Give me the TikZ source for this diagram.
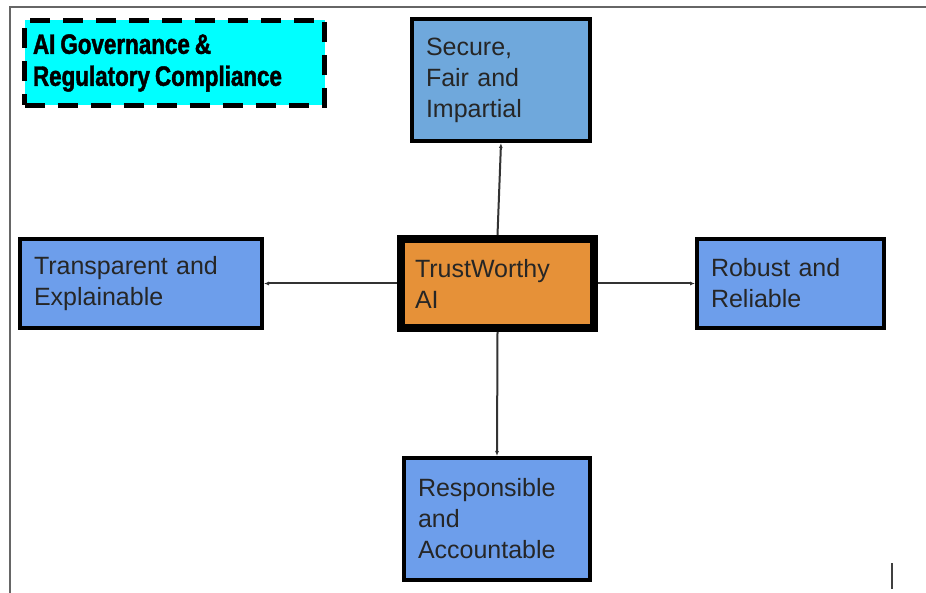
\documentclass[tikz,border=0pt]{standalone}
\usepackage{fontspec}
\setsansfont{Liberation Sans}
\newfontfamily\govfont[FakeStretch=0.8,FakeBold=1.5]{Liberation Sans}
\usetikzlibrary{arrows.meta}
\definecolor{govcyan}{HTML}{00FFFF}
\definecolor{pillarblue}{HTML}{6D9EEB}
\definecolor{secureblue}{HTML}{6FA8DC}
\definecolor{coreorange}{HTML}{E69138}
\newcommand{\gsp}{\hspace{5pt}}
\tikzset{
  centered/.style = { align=left, anchor=center },
   boxtext/.style = { font=\sffamily\fontsize{25}{31}\selectfont, text=black!85, centered, inner xsep=14pt, inner ysep=0pt },
    pillar/.style = { boxtext, draw=black, line width=4pt, fill=pillarblue },
      core/.style = { boxtext, draw=black, line width=8pt, fill=coreorange },
       gov/.style = { font=\govfont\bfseries\fontsize{28}{32}\selectfont, centered, draw=black, fill=govcyan,
                      line width=5pt, dash pattern=on 20pt off 13pt, inner xsep=8.5pt, inner ysep=0pt },
     arrow/.style = { line width=2pt, color=black!80, -{Latex[length=5pt,width=4pt]} },
}
\begin{document}
\begin{tikzpicture}[x=1pt,y=-1pt]
  \useasboundingbox (0,0) rectangle (926,593);
  % page frame and cursor
  \draw [black!60, line width=2pt] (10,593) -- (10,7.5) -- (926,7.5);
  \draw [black!75, line width=2.5pt] (892,563) -- (892,589);

  \node (gov) [gov, minimum width=300, minimum height=85, text width=283] at (174.5,63)
    {AI\gsp Governance\gsp\&\\Regulatory\gsp Compliance};

  \node (core) [core, minimum width=193, minimum height=89, text width=165] at (497.5,283.5)
    {TrustWorthy\\AI};
  \node (secure) [pillar, fill=secureblue, minimum width=178, minimum height=122, text width=150] at (501,80)
    {Secure,\\Fair and\\Impartial};
  \node (transp) [pillar, minimum width=242, minimum height=89, text width=214] at (141,283.5)
    {Transparent and\\Explainable};
  \node (robust) [pillar, minimum width=187, minimum height=89, text width=159] at (790.5,283.5)
    {Robust and\\Reliable};
  \node (resp) [pillar, minimum width=186, minimum height=122, text width=158] at (497,519)
    {Responsible\\and\\Accountable};

  \foreach \a/\b in {north/secure.south, west/transp.east, east/robust.west, south/resp.north} {
    \draw [arrow] (core.\a) -- (\b);
  }
\end{tikzpicture}
\end{document}
